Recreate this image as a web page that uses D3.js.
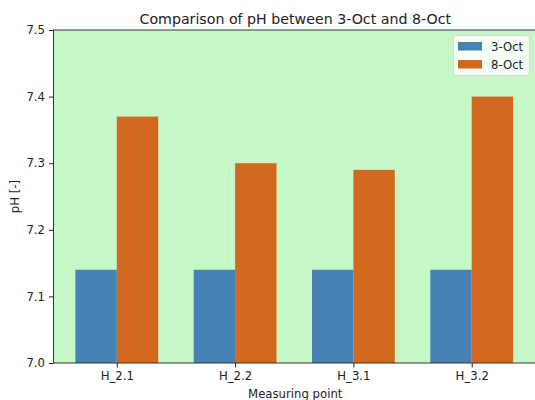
<!DOCTYPE html>
<html>
<head>
<meta charset="utf-8">
<script src="https://cdn.jsdelivr.net/npm/d3@7"></script>
<style>
  html, body { margin: 0; padding: 0; background: #fff; }
  svg { display: block; font-family: "DejaVu Sans", sans-serif; }
</style>
</head>
<body>
<svg id="chart" width="535" height="400"></svg>
<script>
// Measuring points and pH readings on the two dates
const points = ["H_2.1", "H_2.2", "H_3.1", "H_3.2"];
const series = ["3-Oct", "8-Oct"];
const ph3Oct = [7.14, 7.14, 7.14, 7.14];
const ph8Oct = [7.37, 7.30, 7.29, 7.40];
const yTicks = [7.0, 7.1, 7.2, 7.3, 7.4, 7.5];
const colors = ["steelblue", "chocolate"];

(function () {
  const svg = d3.select("#chart");
  const plotL = 53.5, plotR = 535, plotT = 30, plotB = 363;
  const barW = 0.35;
  const fs = 11.7, titleFs = 14.2;

  // Linear x over bar index, padded like an automatic margin
  const x = d3.scaleLinear().domain([-0.535, 3.535]).range([plotL, plotR]);
  const y = d3.scaleLinear().domain([7.0, 7.5]).range([plotB, plotT]);

  // Plot background
  svg.append("rect")
    .attr("x", plotL).attr("y", plotT)
    .attr("width", plotR - plotL).attr("height", plotB - plotT)
    .attr("fill", "#c6f7c6");

  // Bars
  const groups = [ph3Oct, ph8Oct];
  groups.forEach((vals, s) => {
    svg.append("g").selectAll("rect")
      .data(vals)
      .join("rect")
      .attr("x", (d, i) => x(i + (s === 0 ? -barW : 0)))
      .attr("width", x(barW) - x(0))
      .attr("y", d => y(d))
      .attr("height", d => y(7.0) - y(d))
      .attr("fill", colors[s]);
  });

  // Frame
  svg.append("rect")
    .attr("x", plotL).attr("y", plotT)
    .attr("width", plotR - plotL + 1).attr("height", plotB - plotT)
    .attr("fill", "none").attr("stroke", "#333").attr("stroke-width", 1);

  // Axes
  const xAxis = d3.axisBottom(x)
    .tickValues(d3.range(points.length))
    .tickFormat(i => points[i])
    .tickSize(4.5).tickPadding(4);
  const gx = svg.append("g").attr("transform", `translate(0,${plotB})`).call(xAxis);
  gx.select(".domain").remove();

  const yAxis = d3.axisLeft(y)
    .tickValues(yTicks)
    .tickFormat(d3.format(".1f"))
    .tickSize(4.5).tickPadding(4);
  const gy = svg.append("g").attr("transform", `translate(${plotL},0)`).call(yAxis);
  gy.select(".domain").remove();

  [gx, gy].forEach(g => {
    g.selectAll("text").attr("font-size", fs).attr("fill", "#222")
      .attr("font-family", "DejaVu Sans, sans-serif");
    g.selectAll("line").attr("stroke", "#222").attr("stroke-width", 1);
  });

  // Title and axis labels
  svg.append("text")
    .attr("x", (plotL + plotR) / 2 + 1).attr("y", 23.5)
    .attr("text-anchor", "middle").attr("font-size", titleFs).attr("fill", "#222")
    .text("Comparison of pH between 3-Oct and 8-Oct");

  svg.append("text")
    .attr("x", (plotL + plotR) / 2 + 1).attr("y", 397.5)
    .attr("text-anchor", "middle").attr("font-size", fs).attr("fill", "#222")
    .text("Measuring point");

  svg.append("text")
    .attr("transform", `translate(19,${(plotT + plotB) / 2}) rotate(-90)`)
    .attr("text-anchor", "middle").attr("font-size", fs).attr("fill", "#222")
    .text("pH [-]");

  // Legend
  const lg = svg.append("g").attr("transform", "translate(453.5,35.5)");
  lg.append("rect")
    .attr("width", 76).attr("height", 40).attr("rx", 2.5)
    .attr("fill", "rgba(255,255,255,0.8)").attr("stroke", "#d8d8d8").attr("stroke-width", 1);
  series.forEach((name, i) => {
    lg.append("rect")
      .attr("x", 4.5).attr("y", 6.5 + i * 18)
      .attr("width", 24).attr("height", 8.5)
      .attr("fill", colors[i]);
    lg.append("text")
      .attr("x", 37.5).attr("y", 15 + i * 18)
      .attr("font-size", fs).attr("fill", "#222")
      .text(name);
  });
})();
</script>
</body>
</html>
